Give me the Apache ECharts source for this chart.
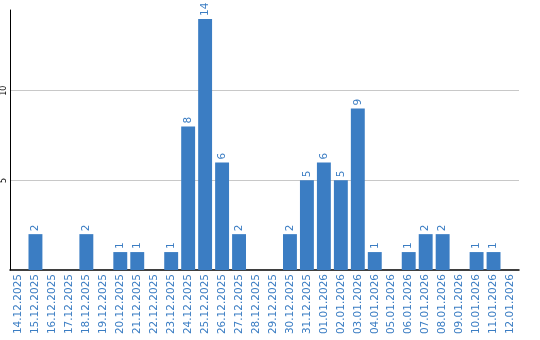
<!DOCTYPE html>
<html><head><meta charset="utf-8">
<script src="https://cdn.jsdelivr.net/npm/echarts@6/dist/echarts.min.js"></script>
<style>html,body{margin:0;padding:0;background:#fff}#c{width:540px;height:340px}</style>
</head><body><div id="c"></div>
<script>
const categories = ["14.12.2025","15.12.2025","16.12.2025","17.12.2025","18.12.2025","19.12.2025","20.12.2025","21.12.2025","22.12.2025","23.12.2025","24.12.2025","25.12.2025","26.12.2025","27.12.2025","28.12.2025","29.12.2025","30.12.2025","31.12.2025","01.01.2026","02.01.2026","03.01.2026","04.01.2026","05.01.2026","06.01.2026","07.01.2026","08.01.2026","09.01.2026","10.01.2026","11.01.2026","12.01.2026"];
const values = [0,2,0,0,2,0,1,1,0,1,8,14,6,2,0,0,2,5,6,5,9,1,0,1,2,2,0,1,1,0];
const blue = '#3b7dc3';
const chart = echarts.init(document.getElementById('c'), null, {renderer:'canvas'});
chart.setOption({
  animation:false,
  grid:{left:9, top:10, width:510, bottom:70, containLabel:false},
  xAxis:{type:'category', data:categories,
    axisLine:{lineStyle:{color:'#000', width:1.5}}, axisTick:{show:false},
    axisLabel:{interval:0, rotate:90, color:blue, fontFamily:'DejaVu Sans', fontSize:10.5, margin:4}},
  yAxis:{type:'value', min:0, max:14.5, interval:5,
    axisLine:{show:true, lineStyle:{color:'#000', width:1}}, axisTick:{show:false},
    axisLabel:{showMinLabel:false, showMaxLabel:false, rotate:90, color:'#000', fontFamily:'DejaVu Sans', fontSize:8, margin:2},
    splitLine:{showMaxLine:false, showMinLine:false, lineStyle:{color:'#c8c8c8'}}},
  series:[{type:'bar', data:values.map(v=>v===0?null:v), barCategoryGap:'18%', itemStyle:{color:blue},
    label:{show:true, position:'top', rotate:90, align:'left', verticalAlign:'middle', distance:3, color:blue, fontFamily:'DejaVu Sans', fontSize:10.5}}]
});
</script></body></html>
